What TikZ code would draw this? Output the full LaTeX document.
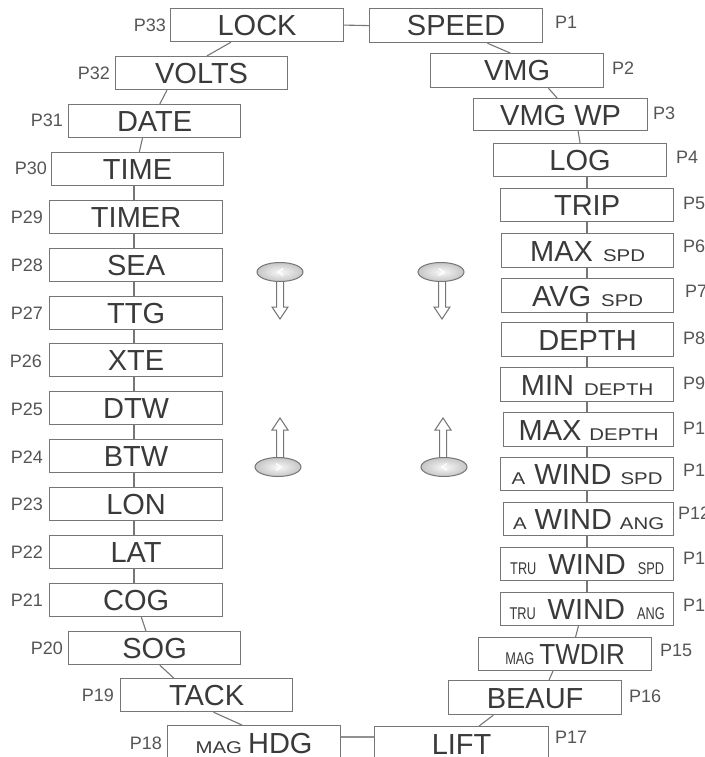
\documentclass[tikz,border=0pt]{standalone}
\usepackage{fontspec}
\setmainfont{Liberation Sans}
\newfontfamily\widef[FakeStretch=1.2]{Liberation Sans}
\newfontfamily\narf[FakeStretch=0.75]{Liberation Sans}
\newfontfamily\twf[FakeStretch=0.9]{Liberation Sans}
\usetikzlibrary{calc,shapes.geometric}
\definecolor{txt}{HTML}{3A3A3A}
\definecolor{edge}{HTML}{767676}
\definecolor{lbl}{HTML}{555555}
\newcommand\sm[1]{{\widef\fontsize{17}{17}\selectfont #1}}
\newcommand\sn[1]{{\narf\fontsize{17}{17}\selectfont #1}}
\newcommand\gp[1]{\hspace{#1pt}}
\newcommand\bx[6]{\node[box, minimum width=#4pt, minimum height=#5pt] (#1) at (#2,#3) {#6};}
\newcommand\cn[4]{\draw[conn] ($(#1.south west)!#2!(#1.south east)$) -- ($(#3.north west)!#4!(#3.north east)$);}
\tikzset{
 box/.style={draw=edge, line width=1.2pt, fill=white, inner sep=0pt, text=txt,
   font=\fontsize{29}{29}\selectfont, text height=20.8pt, text depth=0pt, anchor=north west},
 plbl/.style={text=lbl, font=\fontsize{18}{18}\selectfont, inner sep=0pt},
 conn/.style={draw=edge, line width=1.1pt},
 knob/.style={ellipse, draw=edge, line width=1pt, inner sep=0pt, shade, inner color=white!95!edge, outer color=edge!42, minimum width=46pt, minimum height=19pt},
 harrow/.style={draw=edge, line width=1pt, fill=white, line join=miter},
}
\begin{document}
\begin{tikzpicture}[x=1pt,y=-1pt]
\useasboundingbox (0,0) rectangle (704,757);
\fill[white] (0,0) rectangle (704,757);
\coordinate (lx) at (134,0);
\coordinate (rx) at (587,0);
% left column
\bx{b33}{170}{8}{173}{33}{LOCK}
\bx{b32}{115}{56}{172}{33}{VOLTS}
\bx{b31}{68}{104}{172}{33}{DATE}
\bx{b30}{51}{152}{172}{33}{TIME}
\bx{b29}{49}{200}{173}{33}{TIMER}
\bx{b28}{49}{248}{173}{33}{SEA}
\bx{b27}{49}{296}{173}{33}{TTG}
\bx{b26}{49}{343}{173}{33}{XTE}
\bx{b25}{49}{391}{173}{33}{DTW}
\bx{b24}{49}{439}{173}{33}{BTW}
\bx{b23}{49}{487}{173}{33}{LON}
\bx{b22}{49}{535}{173}{33}{LAT}
\bx{b21}{49}{583}{173}{33}{COG}
\bx{b20}{68}{631}{172}{33}{SOG}
\bx{b19}{120}{678}{172}{33}{TACK}
\bx{b18}{167}{725}{173}{35}{\sm{MAG}\gp{6}HDG}
% right column
\bx{b1}{369}{8}{173}{34}{SPEED}
\bx{b2}{430}{53}{173}{34}{VMG}
\bx{b3}{473}{98}{174}{32}{VMG WP}
\bx{b4}{493}{143}{173}{33}{LOG}
\bx{b5}{500}{188}{173}{33}{TRIP}
\bx{b6}{501}{233}{172}{34}{MAX\gp{10}\sm{SPD}}
\bx{b7}{501}{278}{172}{34}{AVG\gp{10}\sm{SPD}}
\bx{b8}{501}{322}{172}{34}{DEPTH}
\bx{b9}{500}{367}{173}{34}{MIN\gp{10}\sm{DEPTH}}
\bx{b10}{503}{412}{170}{34}{MAX\gp{8}\sm{DEPTH}}
\bx{b11}{500}{457}{173}{33}{\sm{A}\gp{9}WIND\gp{9}\sm{SPD}}
\bx{b12}{503}{502}{170}{33}{\sm{A}\gp{8}WIND\gp{8}\sm{ANG}}
\bx{b13}{500}{547}{173}{33}{\sn{TRU}\gp{12}WIND\gp{12}\sn{SPD}}
\bx{b14}{500}{592}{173}{33}{\sn{TRU}\gp{12}WIND\gp{12}\sn{ANG}}
\bx{b15}{478}{637}{173}{33}{\sn{MAG}\gp{5}{\twf TWDIR}}
\bx{b16}{448}{680}{173}{34}{BEAUF}
\bx{b17}{374}{726}{174}{35}{LIFT}
% connectors
\draw[conn] (b33.east) -- (b1.west);
\draw[conn, line width=2.4pt, draw=edge!80] ($(b18.north east)+(0,12)$) -- ($(b17.north west)+(0,11)$);
\cn{b33}{0.35}{b32}{0.53}
\cn{b32}{0.30}{b31}{0.53}
\cn{b31}{0.43}{b30}{0.51}
\foreach \u/\v in {b30/b29,b29/b28,b28/b27,b27/b26,b26/b25,b25/b24,b24/b23,b23/b22,b22/b21}
  \draw[conn] (\u.south -| lx) -- (\v.north -| lx);
\cn{b21}{0.53}{b20}{0.45}
\cn{b20}{0.53}{b19}{0.31}
\cn{b19}{0.54}{b18}{0.43}
\cn{b1}{0.68}{b2}{0.46}
\cn{b2}{0.68}{b3}{0.48}
\cn{b3}{0.60}{b4}{0.50}
\foreach \u/\v in {b4/b5,b5/b6,b6/b7,b7/b8,b8/b9,b9/b10,b10/b11,b11/b12,b12/b13,b13/b14}
  \draw[conn] (\u.south -| rx) -- (\v.north -| rx);
\cn{b14}{0.45}{b15}{0.56}
\cn{b15}{0.43}{b16}{0.58}
\cn{b16}{0.26}{b17}{0.60}
% left labels
\node[plbl, anchor=east] (l33) at (166,25) {P33};
\node[plbl, anchor=east] (l32) at (110,73) {P32};
\node[plbl, anchor=east] (l31) at (63,120) {P31};
\node[plbl, anchor=east] (l30) at (47,168) {P30};
\node[plbl, anchor=east] (l29) at (43,217) {P29};
\node[plbl, anchor=east] (l28) at (43,265) {P28};
\node[plbl, anchor=east] (l27) at (43,313) {P27};
\node[plbl, anchor=east] (l26) at (42,361) {P26};
\node[plbl, anchor=east] (l25) at (43,409) {P25};
\node[plbl, anchor=east] (l24) at (43,457) {P24};
\node[plbl, anchor=east] (l23) at (43,504) {P23};
\node[plbl, anchor=east] (l22) at (43,552) {P22};
\node[plbl, anchor=east] (l21) at (43,600) {P21};
\node[plbl, anchor=east] (l20) at (63,648) {P20};
\node[plbl, anchor=east] (l19) at (114,695) {P19};
\node[plbl, anchor=east] (l18) at (162,743) {P18};
% right labels
\node[plbl, anchor=west] (l1) at (555,22) {P1};
\node[plbl, anchor=west] (l2) at (612,68) {P2};
\node[plbl, anchor=west] (l3) at (653,113) {P3};
\node[plbl, anchor=west] (l4) at (676,157) {P4};
\node[plbl, anchor=west] (l5) at (683,203) {P5};
\node[plbl, anchor=west] (l6) at (683,246) {P6};
\node[plbl, anchor=west] (l7) at (685,291) {P7};
\node[plbl, anchor=west] (l8) at (683,338) {P8};
\node[plbl, anchor=west] (l9) at (683,383) {P9};
\node[plbl, anchor=west] (l10) at (683,428) {P10};
\node[plbl, anchor=west] (l11) at (683,470) {P11};
\node[plbl, anchor=west] (l12) at (678,513) {P12};
\node[plbl, anchor=west] (l13) at (683,558) {P13};
\node[plbl, anchor=west] (l14) at (683,605) {P14};
\node[plbl, anchor=west] (l15) at (660,650) {P15};
\node[plbl, anchor=west] (l16) at (629,696) {P16};
\node[plbl, anchor=west] (l17) at (555,737) {P17};
% button icons
\draw[harrow] (276.5,276) -- (276.5,307) -- (272,307) -- (280,319) -- (288,307) -- (283.5,307) -- (283.5,276);
\draw[harrow] (438.5,276) -- (438.5,307) -- (434,307) -- (442,319) -- (450,307) -- (445.5,307) -- (445.5,276);
\draw[harrow] (276.5,463) -- (276.5,430) -- (272,430) -- (280,418) -- (288,430) -- (283.5,430) -- (283.5,463);
\draw[harrow] (439.5,463) -- (439.5,430) -- (435,430) -- (443,418) -- (451,430) -- (446.5,430) -- (446.5,463);
\node[knob] (k1) at (280,272) {};
\node[knob] (k2) at (441,272) {};
\node[knob] (k3) at (278,467) {};
\node[knob] (k4) at (444,467) {};
\draw[white, line width=1.3pt] (283,268.5) -- (278,272) -- (283,275.5);
\draw[white, line width=1.3pt] (439,268.5) -- (444,272) -- (439,275.5);
\draw[white, line width=1.3pt] (276,463.5) -- (281,467) -- (276,470.5);
\draw[white, line width=1.3pt] (447,463.5) -- (442,467) -- (447,470.5);
\end{tikzpicture}
\end{document}
